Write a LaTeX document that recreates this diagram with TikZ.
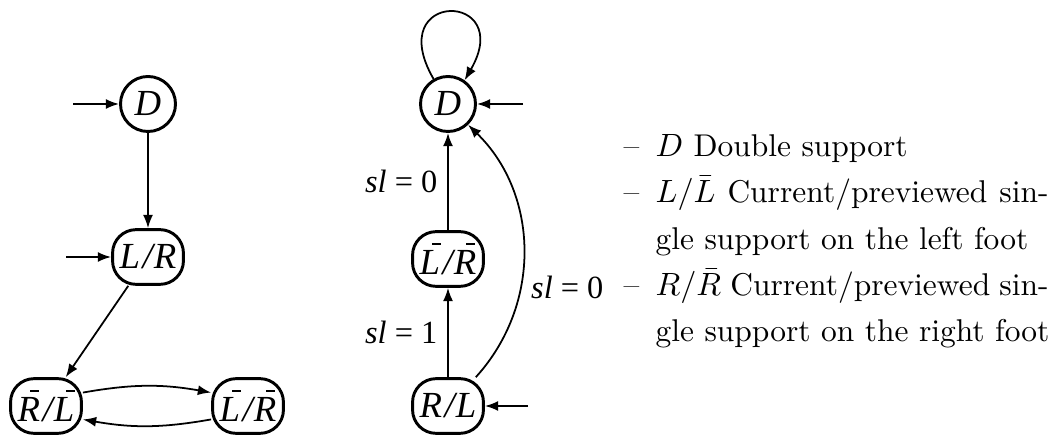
\documentclass[tikz,border=0pt]{standalone}
\usepackage{fontspec}
\newfontfamily\tmfont{Liberation Serif}
\usetikzlibrary{arrows.meta}

% bar over an italic letter (Times-like node labels)
\newcommand\barit[1]{\leavevmode\rlap{\kern0.34em\raisebox{0.8em}{\rule{0.24em}{0.055em}}}#1}
% two states in one node, math-like spacing round the slash
\newcommand\stpair[2]{#1\kern0.07em/\kern0.03em#2}

\tikzset{
  st/.style={draw, line width=1pt, inner sep=1pt,
    font=\tmfont\itshape\fontsize{12.5}{14}\selectfont},
  stcirc/.style={st, circle, minimum size=18.7pt},
  stbox/.style={st, rounded corners=8pt, minimum width=24.1pt, minimum height=18.6pt},
  tr/.style={->, line width=0.6pt},
  lbl/.style={font=\tmfont\fontsize{11}{13}\selectfont},
  key/.style={anchor=base west, inner sep=0pt, font=\fontsize{10.7}{12}\selectfont},
}

\begin{document}
\begin{tikzpicture}[x=0.34pt, y=-0.34pt, >={Latex[length=4.5pt,width=3.4pt]}]
  \useasboundingbox (0,0) rectangle (1051,437);

  % left machine
  \node[stcirc] at (148,104) (lD)    {D};
  \node[stbox]  at (148,257) (lLR)   {\stpair{L}{R}};
  \node[stbox]  at (46,406)  (lRbLb) {\stpair{\barit{R}}{\barit{L}}};
  \node[stbox]  at (248,406) (lLbRb) {\stpair{\barit{L}}{\barit{R}}};
  \coordinate (lDin)  at (73,104);
  \coordinate (lLRin) at (66,257);

  \draw[tr] (lDin) -- (lD);
  \draw[tr] (lLRin) -- (lLR);
  \draw[tr] (lD) -- (lLR);
  \draw[tr] (lLR) -- (lRbLb);
  \draw[tr] (lRbLb.20) to[bend left=10] (lLbRb.160);
  \draw[tr] (lLbRb.200) to[bend left=10] (lRbLb.-20);

  % right machine
  \node[stcirc] at (448,104) (rD)    {D};
  \node[stbox]  at (448,259) (rLbRb) {\stpair{\barit{L}}{\barit{R}}};
  \node[stbox]  at (448,406) (rRL)   {\stpair{R}{L}};
  \coordinate (rDin)  at (523,104);
  \coordinate (rRLin) at (528,406);

  \draw[tr] (rDin) -- (rD);
  \draw[tr] (rRLin) -- (rRL);
  \draw[tr] (rD.120) to[out=120,in=60,looseness=8.5] (rD.55);
  \draw[tr] (rRL) -- node[left, lbl] {\textit{sl} = 1} (rLbRb);
  \draw[tr] (rLbRb) -- node[left, lbl] {\textit{sl} = 0} (rD);
  \draw[tr] (rRL) to[bend right=44] node[pos=0.36, right, lbl] {\textit{sl} = 0} (rD);

  % legend
  \node[key] at (623,157) (k1) {--};
  \node[key] at (623,203) (k2) {--};
  \node[key] at (623,296) (k3) {--};
  \node[key] at (655,157) (t1) {$D$ Double support};
  \node[key] at (655,203) (t2) {\makebox[133.6pt][s]{$L/\bar{L}$ Current/previewed sin-}};
  \node[key] at (655,250) (t3) {gle support on the left foot};
  \node[key] at (655,296) (t4) {\makebox[133.6pt][s]{$R/\bar{R}$ Current/previewed sin-}};
  \node[key] at (655,342) (t5) {gle support on the right foot};
\end{tikzpicture}
\end{document}
